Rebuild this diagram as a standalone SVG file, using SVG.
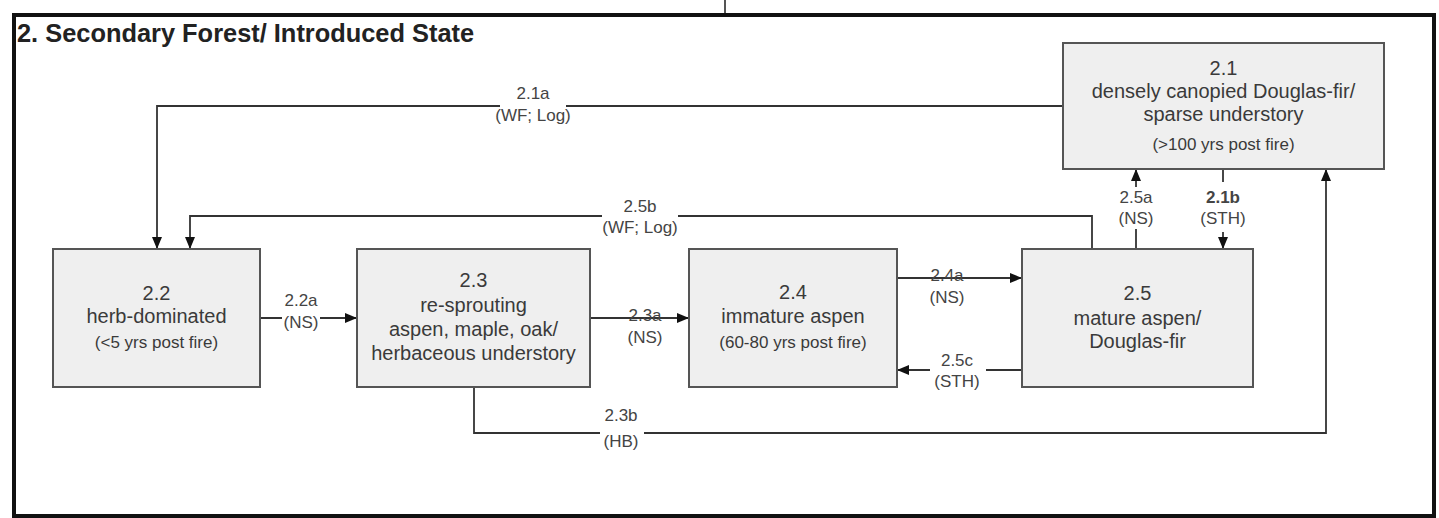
<svg xmlns="http://www.w3.org/2000/svg" width="1439" height="518" viewBox="0 0 1439 518">
<style>
.box{fill:#efefef;stroke:#555;stroke-width:2}
.t{font-family:"Liberation Sans",Arial,sans-serif;font-size:20px;fill:#3a3a3a;text-anchor:middle}
.s{font-family:"Liberation Sans",Arial,sans-serif;font-size:17px;fill:#3a3a3a;text-anchor:middle}
.l{font-family:"Liberation Sans",Arial,sans-serif;font-size:17px;fill:#444;text-anchor:middle}
.c{fill:none;stroke:#333;stroke-width:1.8}
.a{marker-end:url(#ah)}
.bg{fill:#fff}
</style>
<defs>
<marker id="ah" markerUnits="userSpaceOnUse" markerWidth="12" markerHeight="10" refX="12" refY="5" orient="auto">
<path d="M0,0 L12,5 L0,10 z" fill="#111"/>
</marker>
</defs>
<rect x="0" y="0" width="1439" height="518" fill="#fff"/>
<line x1="725" y1="0" x2="725" y2="15" stroke="#555" stroke-width="2"/>
<rect x="14" y="15" width="1420" height="501" fill="none" stroke="#111" stroke-width="4"/>
<text x="17" y="42" font-family="'Liberation Sans',Arial,sans-serif" font-size="25.4" font-weight="bold" fill="#222">2. Secondary Forest/ Introduced State</text>

<g id="connectors">
<path class="c a" d="M1063,106 H157 V249"/>
<path class="c a" d="M1092,249 V216 H190 V249"/>
<path class="c a" d="M260,318 H357"/>
<path class="c a" d="M590,318 H689"/>
<path class="c a" d="M897,278 H1022"/>
<path class="c a" d="M1022,370 H897"/>
<path class="c a" d="M474,387 V433 H1326 V169"/>
<path class="c a" d="M1136,249 V169"/>
<path class="c a" d="M1223,169 V249"/>

<rect class="bg" x="500" y="84" width="66" height="42"/>
<text class="l" x="533" y="99">2.1a</text>
<text class="l" x="533" y="121">(WF; Log)</text>

<rect class="bg" x="602" y="194" width="76" height="42"/>
<text class="l" x="640" y="212">2.5b</text>
<text class="l" x="640" y="233">(WF; Log)</text>

<rect class="bg" x="282" y="290" width="38" height="42"/>
<text class="l" x="301" y="306">2.2a</text>
<text class="l" x="301" y="328">(NS)</text>

<text class="l" x="645" y="321">2.3a</text>
<text class="l" x="645" y="343">(NS)</text>

<text class="l" x="947" y="281">2.4a</text>
<text class="l" x="947" y="303">(NS)</text>

<rect class="bg" x="930" y="350" width="56" height="40"/>
<text class="l" x="957" y="366">2.5c</text>
<text class="l" x="957" y="387">(STH)</text>

<rect class="bg" x="600" y="405" width="44" height="46"/>
<text class="l" x="621" y="421">2.3b</text>
<text class="l" x="621" y="447">(HB)</text>

<rect class="bg" x="1115" y="187" width="42" height="42"/>
<text class="l" x="1136" y="203">2.5a</text>
<text class="l" x="1136" y="224">(NS)</text>

<rect class="bg" x="1198" y="182" width="50" height="50"/>
<text class="l" x="1223" y="203" font-weight="bold">2.1b</text>
<text class="l" x="1223" y="224">(STH)</text>
</g>

<g id="n21">
<rect class="box" x="1063" y="43" width="321" height="126"/>
<text class="t" x="1223.5" y="75">2.1</text>
<text class="t" x="1223.5" y="98">densely canopied Douglas-fir/</text>
<text class="t" x="1223.5" y="121">sparse understory</text>
<text class="s" x="1223.5" y="150">(&gt;100 yrs post fire)</text>
</g>
<g id="n22">
<rect class="box" x="53" y="249" width="207" height="138"/>
<text class="t" x="156.5" y="300">2.2</text>
<text class="t" x="156.5" y="323">herb-dominated</text>
<text class="s" x="156.5" y="348">(&lt;5 yrs post fire)</text>
</g>
<g id="n23">
<rect class="box" x="357" y="249" width="233" height="138"/>
<text class="t" x="473.5" y="287">2.3</text>
<text class="t" x="473.5" y="312">re-sprouting</text>
<text class="t" x="473.5" y="336">aspen, maple, oak/</text>
<text class="t" x="473.5" y="360">herbaceous understory</text>
</g>
<g id="n24">
<rect class="box" x="689" y="249" width="208" height="138"/>
<text class="t" x="793" y="299">2.4</text>
<text class="t" x="793" y="323">immature aspen</text>
<text class="s" x="793" y="348">(60-80 yrs post fire)</text>
</g>
<g id="n25">
<rect class="box" x="1022" y="249" width="231" height="138"/>
<text class="t" x="1137.5" y="300">2.5</text>
<text class="t" x="1137.5" y="325">mature aspen/</text>
<text class="t" x="1137.5" y="348">Douglas-fir</text>
</g>
</svg>
